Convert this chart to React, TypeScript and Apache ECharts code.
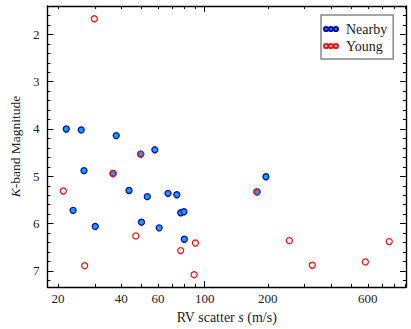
import React, { useEffect, useRef } from "react";
import * as echarts from "echarts";

// RV scatter s (m/s) and K-band magnitude
const nearbyS = [21.9, 25.8, 37.9, 57.9, 26.6, 196, 43.6, 66.9, 73.7, 53.3, 23.6, 76.9, 79.7, 50.0, 30.1, 60.7, 80.0, 49.6, 36.6, 177.7];
const nearbyK = [4.0, 4.02, 4.14, 4.44, 4.88, 5.01, 5.3, 5.36, 5.39, 5.43, 5.72, 5.77, 5.75, 5.97, 6.06, 6.09, 6.33, 4.53, 4.94, 5.33];
const youngS = [29.8, 49.6, 36.6, 21.2, 177.7, 47.0, 253.6, 759, 90.4, 76.9, 584, 26.8, 326, 89.1];
const youngK = [1.67, 4.53, 4.94, 5.31, 5.33, 6.26, 6.36, 6.38, 6.41, 6.57, 6.81, 6.89, 6.88, 7.08];

const xLabelTicks = [20, 40, 60, 100, 200, 600];
const xMinorTicks = [20, 30, 40, 50, 60, 70, 80, 90, 200, 300, 400, 500, 600, 700, 800, 900];
const xMajorTicks = [100];
const yMajorTicks = [2, 3, 4, 5, 6, 7];
const yMinorTicks = [1.4, 1.6, 1.8, 2.2, 2.4, 2.6, 2.8, 3.2, 3.4, 3.6, 3.8, 4.2, 4.4, 4.6, 4.8, 5.2, 5.4, 5.6, 5.8, 6.2, 6.4, 6.6, 6.8, 7.2];

const X_MIN = 17.8;
const X_MAX = 912;
const Y_MIN = 1.4;
const Y_MAX = 7.34;

const FONT = "'Liberation Serif', 'DejaVu Serif', serif";
const lg = (v: number) => Math.log10(v);

const ICON = "path://M0,3a3,3 0 1,0 6,0a3,3 0 1,0 -6,0M7,3a3,3 0 1,0 6,0a3,3 0 1,0 -6,0M14,3a3,3 0 1,0 6,0a3,3 0 1,0 -6,0";

function xAxisDef(position: "top" | "bottom", ticks: number[], len: number, showLine: boolean, labels: boolean, name?: string) {
  const ax: any = {
    type: "value",
    position,
    min: lg(X_MIN),
    max: lg(X_MAX),
    splitLine: { show: false },
    axisLine: { show: showLine, onZero: false, lineStyle: { color: "#000", width: 1.4 } },
    axisTick: { show: true, inside: true, length: len, customValues: ticks.map(lg), lineStyle: { color: "#000", width: 1 } },
    axisLabel: labels
      ? {
          show: true,
          customValues: xLabelTicks.map(lg),
          formatter: (v: number) => String(Math.round(Math.pow(10, v))),
          fontFamily: FONT,
          fontSize: 13,
          color: "#222",
          margin: 5,
        }
      : { show: false },
  };
  if (name) {
    ax.name = name;
    ax.nameLocation = "middle";
    ax.nameGap = 23;
    ax.nameTextStyle = {
      fontFamily: FONT,
      fontSize: 14,
      color: "#222",
      rich: { i: { fontFamily: FONT, fontSize: 14, fontStyle: "italic", color: "#222" } },
    };
  }
  return ax;
}

function yAxisDef(position: "left" | "right", ticks: number[], len: number, showLine: boolean, labels: boolean, name?: string) {
  const ax: any = {
    type: "value",
    position,
    inverse: true,
    min: Y_MIN,
    max: Y_MAX,
    splitLine: { show: false },
    axisLine: { show: showLine, onZero: false, lineStyle: { color: "#000", width: 1.4 } },
    axisTick: { show: true, inside: true, length: len, customValues: ticks, lineStyle: { color: "#000", width: 1 } },
    axisLabel: labels
      ? {
          show: true,
          customValues: yMajorTicks,
          fontFamily: FONT,
          fontSize: 13,
          color: "#222",
          margin: 8,
        }
      : { show: false },
  };
  if (name) {
    ax.name = name;
    ax.nameLocation = "middle";
    ax.nameGap = 25;
    ax.nameTextStyle = {
      fontFamily: FONT,
      fontSize: 13.5,
      color: "#222",
      rich: { i: { fontFamily: FONT, fontSize: 13.5, fontStyle: "italic", color: "#222" } },
    };
  }
  return ax;
}

export default function App() {
  const ref = useRef<HTMLDivElement>(null);
  useEffect(() => {
    if (!ref.current) return;
    const chart = echarts.init(ref.current, undefined, { renderer: "svg" });
    const option: any = {
      animation: false,
      backgroundColor: "#fff",
      textStyle: { fontFamily: FONT },
      grid: { left: 41, right: 5, top: 6, bottom: 40, containLabel: false },
      xAxis: [
        xAxisDef("bottom", xMinorTicks, 3, true, true, "RV scatter {i|s} (m/s)"),
        xAxisDef("bottom", xMajorTicks, 6, false, false),
        xAxisDef("top", xMinorTicks, 3, true, false),
        xAxisDef("top", xMajorTicks, 6, false, false),
      ],
      yAxis: [
        yAxisDef("left", yMajorTicks, 6, true, true, "{i|K}-band Magnitude"),
        yAxisDef("left", yMinorTicks, 3, false, false),
        yAxisDef("right", yMajorTicks, 6, true, false),
        yAxisDef("right", yMinorTicks, 3, false, false),
      ],
      legend: {
        orient: "vertical",
        left: 321,
        top: 15,
        padding: [7, 6, 6, 2],
        itemGap: 3,
        itemWidth: 14,
        itemHeight: 4.5,
        backgroundColor: "#fff",
        borderColor: "#888",
        borderWidth: 1.5,
        borderRadius: 0,
        textStyle: { fontFamily: FONT, fontSize: 14, color: "#222", padding: [0, 0, 0, 3] },
        data: [
          { name: "Nearby", icon: ICON },
          { name: "Young", icon: ICON },
        ],
      },
      series: [
        {
          name: "Nearby",
          type: "scatter",
          xAxisIndex: 0,
          yAxisIndex: 0,
          symbol: "circle",
          symbolSize: 6,
          itemStyle: { color: "#12A0F0", borderColor: "#0A0AA8", borderWidth: 1.3, opacity: 1 },
          data: nearbyS.map((s, i) => [lg(s), nearbyK[i]]),
          z: 2,
        },
        {
          name: "Young",
          type: "scatter",
          xAxisIndex: 0,
          yAxisIndex: 0,
          symbol: "circle",
          symbolSize: 6,
          itemStyle: { color: "rgba(255,255,255,0)", borderColor: "#FF1010", borderWidth: 1.3, opacity: 1 },
          data: youngS.map((s, i) => [lg(s), youngK[i]]),
          z: 3,
        },
      ],
    };
    chart.setOption(option);
    return () => chart.dispose();
  }, []);
  return (
    <div
      ref={ref}
      style={{ position: "fixed", left: 0, top: 0, width: 411, height: 329, background: "#fff" }}
    />
  );
}
